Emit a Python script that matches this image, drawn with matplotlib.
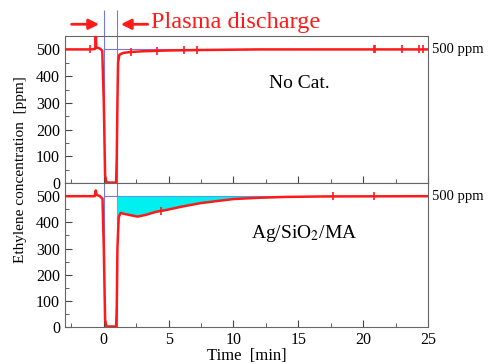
import numpy as np
import matplotlib.pyplot as plt
from matplotlib.ticker import MultipleLocator

plt.rcParams['font.family'] = 'Liberation Serif'
plt.rcParams['mathtext.fontset'] = 'stix'

# ----------------------------------------------------------------------
# Data (time in min, ethylene in ppm)
# ----------------------------------------------------------------------
t_nocat = [-3, -1.0, -0.66, -0.62, -0.58, -0.3, -0.12, 0.0, 0.1, 0.2, 0.95,
           1.0, 1.05, 1.1, 1.2, 1.5, 2.0, 3.0, 5.0, 8.0, 12.0, 25.0]
y_nocat = [500, 500, 502, 570, 508, 503, 495, 300, 30, 2, 2,
           100, 300, 450, 480, 487, 490, 493, 496, 498, 500, 500]
mk_t_nocat = [-1.08, 2.1, 4.1, 6.2, 7.2, 20.8, 20.95, 23.0, 24.3, 24.6]
mk_y_nocat = [500, 491, 495, 497, 497, 500, 500, 500, 500, 500]

t_cat = [-3, -0.7, -0.62, -0.55, -0.3, -0.1, 0.0, 0.1, 0.2, 0.95, 1.0, 1.05,
         1.15, 1.3, 1.6, 2.0, 2.6, 3.2, 4.0, 4.9, 6.0, 7.4, 8.5, 10.0, 12.0,
         14.0, 17.0, 25.0]
y_cat = [500, 500, 522, 505, 500, 490, 300, 30, 2, 2, 80, 300,
         420, 436, 432, 428, 422, 428, 440, 448, 460, 473, 480, 489, 494,
         497, 499, 500]
mk_t_cat = [4.4, 17.7, 20.8]
mk_y_cat = [443, 499, 500]

x_ticks = [0, 5, 10, 15, 20, 25]
y_ticks = [0, 100, 200, 300, 400, 500]
ref_level = 500
t_on, t_off = 0.0, 1.0

RED = '#ff1a1a'
BLUE = '#7777dd'

# ----------------------------------------------------------------------
fig = plt.figure(figsize=(4.88, 3.64), dpi=100)
ax_top = fig.add_axes([0.133, 0.497, 0.744, 0.404])
ax_bot = fig.add_axes([0.133, 0.1016, 0.744, 0.3954], sharex=ax_top)

for ax, t, y, mt, my in [(ax_top, t_nocat, y_nocat, mk_t_nocat, mk_y_nocat),
                         (ax_bot, t_cat, y_cat, mk_t_cat, mk_y_cat)]:
    ax.axvline(t_on, color=BLUE, lw=0.8, zorder=1)
    ax.axvline(t_off, color=BLUE, lw=0.8, zorder=1)
    ax.hlines(ref_level, t_on, 25, color=BLUE, lw=0.8, zorder=1)
    ax.plot(t, y, color=RED, lw=1.8, zorder=3)
    ax.plot(mt, my, ls='none', marker='|', ms=6, mew=1.2, color=RED, zorder=3)
    ax.set_xlim(-3, 25)
    ax.set_ylim(0, 550)
    ax.set_yticks(y_ticks)
    ax.yaxis.set_minor_locator(MultipleLocator(50))
    ax.xaxis.set_minor_locator(MultipleLocator(2.5))
    ax.tick_params(which='both', direction='in', top=False, right=False,
                   labelsize=11.5, color='#444444')
    ax.tick_params(which='major', length=5)
    ax.tick_params(which='minor', length=3)
    for s in ax.spines.values():
        s.set_color('#666666')
        s.set_linewidth(0.8)
    ax.text(1.01, ref_level, '500 ppm', transform=ax.get_yaxis_transform(),
            va='center', ha='left', fontsize=10.5)

# blue discharge markers continue above the top panel
ax_top.vlines([t_on, t_off], 550, 648, color=BLUE, lw=0.8, clip_on=False)

# cyan area between catalyst curve and 500 ppm after discharge
tc = np.array(t_cat)
yc = np.array(y_cat)
sel = tc >= t_off
ax_bot.fill_between(tc[sel], yc[sel], ref_level, color='#00f0f0', lw=0, zorder=2)

ax_top.tick_params(labelbottom=False)
ax_bot.set_xticks(x_ticks)

ax_top.text(0.645, 0.68, 'No Cat.', transform=ax_top.transAxes, fontsize=14,
            ha='center', va='center')
ax_bot.text(0.66, 0.65, 'Ag/SiO$_2$/MA', transform=ax_bot.transAxes, fontsize=14,
            ha='center', va='center')

ax_bot.set_xlabel('Time  [min]', fontsize=12, labelpad=0)
fig.text(0.042, 0.533, 'Ethylene concentration  [ppm]', rotation=90,
         ha='center', va='center', fontsize=11)

# discharge arrows and label
tr = ax_top.get_xaxis_transform()
ax_top.annotate('', xy=(-0.15, 1.08), xytext=(-2.7, 1.08), xycoords=tr,
                textcoords=tr, annotation_clip=False,
                arrowprops=dict(arrowstyle='-|>', color=RED, lw=2, mutation_scale=15))
ax_top.annotate('', xy=(1.1, 1.08), xytext=(3.6, 1.08), xycoords=tr,
                textcoords=tr, annotation_clip=False,
                arrowprops=dict(arrowstyle='-|>', color=RED, lw=2, mutation_scale=15))
ax_top.text(3.65, 1.09, 'Plasma discharge', transform=tr, color=RED,
            fontsize=17.5, ha='left', va='center')

fig.savefig('out.png', dpi=100)
